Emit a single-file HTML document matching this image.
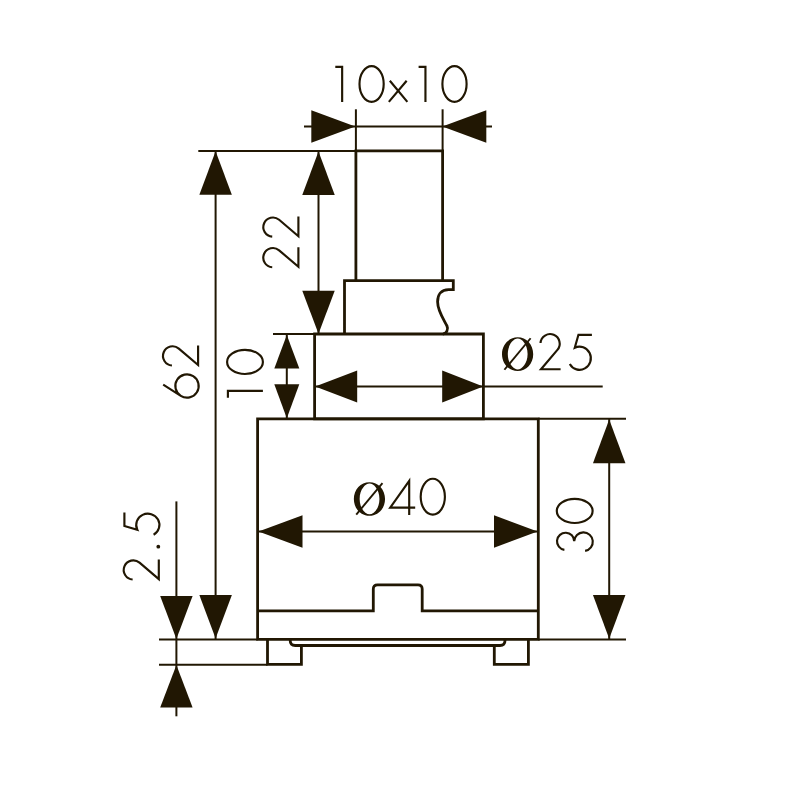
<!DOCTYPE html>
<html><head><meta charset="utf-8"><style>
html,body{margin:0;padding:0;background:#fff;width:800px;height:800px;overflow:hidden;font-family:"Liberation Sans",sans-serif;}
svg{display:block}
line,path{stroke:#211703;fill:none}
.a{fill:#211703;stroke:none}
.t path{stroke:#211703;fill:none}
</style></head><body>
<svg width="800" height="800" viewBox="0 0 800 800" stroke-linejoin="miter">
<line x1="355.9" y1="109.3" x2="355.9" y2="150.9" stroke-width="2"/>
<line x1="442.6" y1="109.3" x2="442.6" y2="150.9" stroke-width="2"/>
<line x1="304" y1="126.6" x2="492" y2="126.6" stroke-width="2"/>
<polygon class="a" points="355.3,126.6 311.3,110.35 311.3,142.85"/>
<polygon class="a" points="442.3,126.6 486.3,110.35 486.3,142.85"/>
<line x1="198.3" y1="150.9" x2="355.9" y2="150.9" stroke-width="2"/>
<path d="M355.9,150.9 H442.6 V280.7 M355.9,150.9 V280.7" stroke-width="2.8" stroke-linecap="square"/>
<path d="M344.5,334 V280.7 H453.3 V289.6 H448.6 C441,289.6 437.6,295 437.6,301.8 C437.6,311 444,320 447,326 C448.6,329.3 446.5,334 442.9,334" stroke-width="2.8" />
<line x1="273" y1="334" x2="314.6" y2="334" stroke-width="2"/>
<path d="M314.6,334 H483.4 V418.8 H314.6 Z" stroke-width="2.8" />
<line x1="215.6" y1="150.6" x2="215.6" y2="639" stroke-width="2"/>
<polygon class="a" points="215.6,151.3 199.35,194.8 231.85,194.8"/>
<polygon class="a" points="215.6,638.6 199.35,595.1 231.85,595.1"/>
<line x1="318.5" y1="150.9" x2="318.5" y2="334" stroke-width="2"/>
<polygon class="a" points="318.5,151.5 302.25,195 334.75,195"/>
<polygon class="a" points="318.5,333.8 302.25,290.8 334.75,290.8"/>
<line x1="286.8" y1="334" x2="286.8" y2="418" stroke-width="2"/>
<polygon class="a" points="286.8,335 274.3,368.6 299.3,368.6"/>
<polygon class="a" points="286.8,418.2 274.3,384.2 299.3,384.2"/>
<line x1="315" y1="386.5" x2="602.7" y2="386.5" stroke-width="2"/>
<polygon class="a" points="315.2,386.6 357.2,370.6 357.2,402.6"/>
<polygon class="a" points="483.2,386.6 442.2,370.6 442.2,402.6"/>
<path d="M257.6,418.8 H538.3 V639.4 H257.6 Z" stroke-width="2.8" />
<line x1="538.3" y1="418.8" x2="626" y2="418.8" stroke-width="2"/>
<path d="M257.6,610.8 H373.3 V589 Q373.3,584.8 377.5,584.8 H418 Q422.2,584.8 422.2,589 V610.8 H538.3" stroke-width="2.8" />
<line x1="159" y1="639.4" x2="257.6" y2="639.4" stroke-width="2"/>
<line x1="538.3" y1="639.4" x2="626" y2="639.4" stroke-width="2"/>
<line x1="159" y1="664.8" x2="267.5" y2="664.8" stroke-width="2"/>
<path d="M290.2,639.1 V640.5 Q290.2,645.5 295.2,645.5 H500 Q505,645.5 505,640.5 V639.1" stroke-width="2.8" />
<path d="M267.5,639.1 V664.3 H301.4 V645.5" stroke-width="2.8" />
<path d="M494.3,645.5 V664.3 H528.4 V639.1" stroke-width="2.8" />
<line x1="609.2" y1="419" x2="609.2" y2="639" stroke-width="2"/>
<polygon class="a" points="609.2,419.5 592.95,463.3 625.45,463.3"/>
<polygon class="a" points="609.2,638.8 592.95,595 625.45,595"/>
<line x1="258" y1="531.5" x2="538" y2="531.5" stroke-width="2"/>
<polygon class="a" points="258.5,531.5 302.5,515.25 302.5,547.75"/>
<polygon class="a" points="537.5,531.5 494,515.25 494,547.75"/>
<line x1="176.4" y1="501.4" x2="176.4" y2="716.3" stroke-width="2"/>
<polygon class="a" points="176.4,639 160.2,596 192.6,596"/>
<polygon class="a" points="176.4,665 160.2,707.5 192.6,707.5"/>
<g class="t" transform="translate(0,65.9)" stroke-width="2.15"><path transform="translate(335.3,0)" d="M0,1 H7.9 M6.85,0 V36"/><path transform="translate(358.4,0)" d="M1.1,18.1 A12.1,17.9 0 1 1 25.3,18.1 A12.1,17.9 0 1 1 1.1,18.1 Z"/><path transform="translate(388.25,0)" d="M1.6,14.8 L19.1,36 M18.4,14.8 L0.6,36"/><path transform="translate(418.6,0)" d="M0,1 H7.9 M6.85,0 V36"/><path transform="translate(441.3,0)" d="M1.1,18.1 A12.1,17.9 0 1 1 25.3,18.1 A12.1,17.9 0 1 1 1.1,18.1 Z"/></g>
<path class="a" fill-rule="evenodd" d="M502,354.15 C502,344.74 508.86,337.35 517.6,337.35 C526.34,337.35 533.2,344.74 533.2,354.15 C533.2,363.56 526.34,370.95 517.6,370.95 C508.86,370.95 502,363.56 502,354.15 Z M507.8,354.05 C507.8,363.63 513.54,369.5 517.7,369.5 C521.86,369.5 527.6,363.63 527.6,354.05 C527.6,344.47 521.86,338.6 517.7,338.6 C513.54,338.6 507.8,344.47 507.8,354.05 Z "/>
<line x1="504.4" y1="369.75" x2="530.6" y2="338.25" stroke-width="1.9"/>
<g class="t" transform="translate(0,333.1)" stroke-width="2.15"><path transform="translate(539,0)" d="M1.52,9.93 A9.6,9.6 0 1 1 18.41,16.82 L2,36.1 H21.6"/><path transform="translate(568.05,0)" d="M23.85,1.7 H10.4 L6.72,14.59 A11.3,11.6 0 1 1 1.71,30.9"/></g>
<path class="a" fill-rule="evenodd" d="M353.85,499 C353.85,489.59 360.71,482.2 369.45,482.2 C378.19,482.2 385.05,489.59 385.05,499 C385.05,508.41 378.19,515.8 369.45,515.8 C360.71,515.8 353.85,508.41 353.85,499 Z M359.65,498.9 C359.65,508.48 365.39,514.35 369.55,514.35 C373.71,514.35 379.45,508.48 379.45,498.9 C379.45,489.32 373.71,483.45 369.55,483.45 C365.39,483.45 359.65,489.32 359.65,498.9 Z "/>
<line x1="356.25" y1="514.6" x2="382.45" y2="483.1" stroke-width="1.9"/>
<g class="t" transform="translate(0,478.3)" stroke-width="2.15"><path transform="translate(389,0)" d="M20.2,36.8 V2.5 L1.2,29.4 H26.2"/></g>
<g class="t" transform="translate(0,478.6)" stroke-width="2.15"><path transform="translate(419.6,0)" d="M1.1,18.1 A12.1,17.9 0 1 1 25.3,18.1 A12.1,17.9 0 1 1 1.1,18.1 Z"/></g>
<g class="t" transform="translate(262.3,268.75) rotate(-90)" stroke-width="2.15"><path transform="translate(0,0)" d="M1.52,9.93 A9.6,9.6 0 1 1 18.41,16.82 L2,36.1 H21.6"/><path transform="translate(30.55,0)" d="M1.52,9.93 A9.6,9.6 0 1 1 18.41,16.82 L2,36.1 H21.6"/></g>
<g class="t" transform="translate(162,398.5) rotate(-90)" stroke-width="2.15"><path transform="translate(0,0)" d="M13.8,1.2 L2.69,18.81 A11.6,11.6 0 1 0 22.31,31.19 A11.6,11.6 0 1 0 2.69,18.81"/><path transform="translate(31.5,0)" d="M1.52,9.93 A9.6,9.6 0 1 1 18.41,16.82 L2,36.1 H21.6"/></g>
<g class="t" transform="translate(226.9,397.7) rotate(-90)" stroke-width="2.15"><path transform="translate(0,0)" d="M0,1 H7.9 M6.85,0 V36"/><path transform="translate(22.6,0)" d="M1.1,18.1 A12.1,17.9 0 1 1 25.3,18.1 A12.1,17.9 0 1 1 1.1,18.1 Z"/></g>
<g class="t" transform="translate(122.7,581.05) rotate(-90)" stroke-width="2.15"><path transform="translate(0,0)" d="M1.52,9.93 A9.6,9.6 0 1 1 18.41,16.82 L2,36.1 H21.6"/><path transform="translate(44.6,0)" d="M23.85,1.7 H10.4 L6.72,14.59 A11.3,11.6 0 1 1 1.71,30.9"/></g>
<circle class="a" cx="158.3" cy="546.7" r="1.9"/>
<g class="t" transform="translate(556.6,551.7) rotate(-90)" stroke-width="2.15"><path transform="translate(0,0)" d="M1.88,7.8 A8.6,8.6 0 1 1 10.4,17.6 A9.3,9.3 0 1 1 0.84,28.51"/><path transform="translate(27.6,0)" d="M1.1,18.1 A12.1,17.9 0 1 1 25.3,18.1 A12.1,17.9 0 1 1 1.1,18.1 Z"/></g>
</svg>
</body></html>
